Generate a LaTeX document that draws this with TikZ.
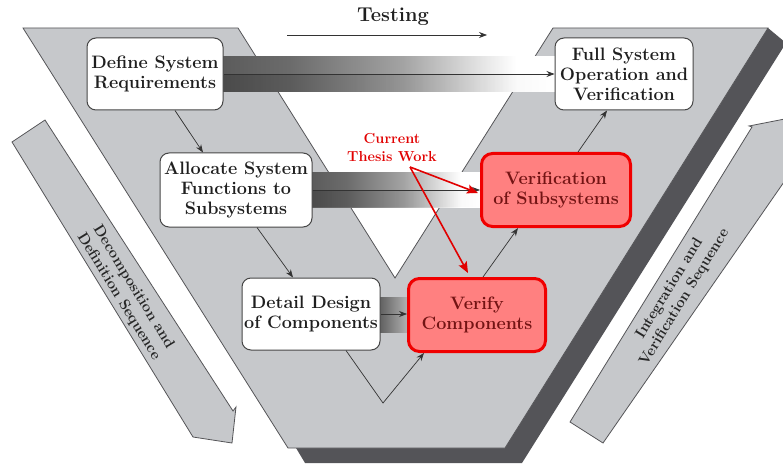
\documentclass[tikz,border=0pt]{standalone}
\usetikzlibrary{arrows.meta,fadings}

\definecolor{vfill}{RGB}{198,200,203}
\definecolor{vline}{RGB}{85,85,88}
\definecolor{vshadow}{RGB}{84,84,88}
\definecolor{boxline}{RGB}{70,70,70}
\definecolor{redfill}{RGB}{255,128,128}
\definecolor{redline}{RGB}{240,0,0}
\definecolor{redtext}{RGB}{115,20,20}
\definecolor{notered}{RGB}{225,0,0}

% left-to-right fade used by the "testing" bars (stops between 25bp and 75bp)
\pgfdeclarehorizontalshading{barfade}{100bp}{color(0bp)=(black!64); color(25bp)=(black!64);
  color(35bp)=(black!58); color(52bp)=(black!36); color(64bp)=(black!10);
  color(69bp)=(white); color(100bp)=(white)}
\pgfdeclarehorizontalshading{shortfade}{100bp}{color(0bp)=(black!62); color(25bp)=(black!62);
  color(75bp)=(black!30); color(100bp)=(black!30)}

\newcommand\vmboxfont{\fontsize{18}{20}\selectfont\bfseries}
\newcommand\vmbandfont{\fontsize{15}{17.5}\selectfont\bfseries}

\begin{document}
\begin{tikzpicture}[x=1pt,y=-1pt,
  boxw/.style={draw=boxline, line width=1pt, fill=white, rounded corners=9pt,
    align=center, font=\vmboxfont, text=black!88, inner sep=0pt},
  boxr/.style={draw=redline, line width=3pt, fill=redfill, rounded corners=11pt,
    align=center, font=\vmboxfont, text=redtext, inner sep=0pt},
  arr/.style={draw=black!80, line width=0.7pt, -{Stealth[length=8pt,width=6pt]}},
  redarr/.style={draw=notered, line width=1.6pt, -{Stealth[length=11pt,width=9pt,inset=2pt]}},
  band/.style={fill=vfill, draw=vline, line width=0.8pt, line join=miter},
  bandtext/.style={align=center, font=\vmbandfont, text=black!85},
  bar/.style={shading=barfade},
]
\useasboundingbox (0,0) rectangle (783,465);
\clip (0,0) rectangle (783,465);

% drop shadow along the right and bottom edges of the V
\fill[vshadow] (768,28) -- (786,43) -- (522,463) -- (305,463) -- (296,448)
  -- (505,448) -- cycle;

% the V itself
\path[band] (23,28) -- (238,28) -- (395,278) -- (553,28) -- (768,28)
  -- (505,448) -- (288,448) -- cycle;

% side arrows
\path[band] (12,142) -- (45,120) -- (233,411) -- (236,407) -- (232,443)
  -- (193,437) -- cycle;
\path[band] (570,422) -- (752,127) -- (749,126) -- (800,116) -- (820,130)
  -- (603,443) -- cycle;
\node[bandtext, rotate=-58.5] (dectext) at (126,292)
  {Decomposition and\\Definition Sequence};
\node[bandtext, rotate=58.5] (inttext) at (677,293)
  {Integration and\\Verification Sequence};

% testing bars
\shade[bar] (223,57) rectangle (556,92);
\fill[black, opacity=0.18, path fading=east] (223,75) rectangle (556,92);
\shade[bar] (312,172) rectangle (481,207);
\fill[black, opacity=0.18, path fading=east] (312,190) rectangle (481,207);
\shade[shading=shortfade] (380,297) rectangle (408,332);

% testing direction
\coordinate (t0) at (287,35);
\coordinate (t1) at (487,35);
\draw[arr] (t0) -- (t1);
\node[font=\fontsize{20}{22}\selectfont\bfseries, text=black!88] (testing) at (393,17) {Testing};

% process boxes
\node[boxw, minimum width=136pt, minimum height=72pt] (define) at (155,74)
  {Define System\\Requirements};
\node[boxw, minimum width=152pt, minimum height=74pt] (allocate) at (236,190)
  {Allocate System\\Functions to\\Subsystems};
\node[boxw, minimum width=138pt, minimum height=72pt] (detail) at (311,314)
  {Detail Design\\of Components};
\node[boxr, minimum width=137pt, minimum height=73pt] (verify) at (477,315)
  {Verify\\Components};
\node[boxr, minimum width=149pt, minimum height=73pt] (versub) at (556,190)
  {Verification\\of Subsystems};
\node[boxw, minimum width=138pt, minimum height=72pt] (full) at (624,74)
  {Full System\\Operation and\\Verification};

% flow down the left arm and up the right arm
\draw[arr] ([xshift=20pt]define.south) -- ([xshift=-33pt]allocate.north);
\draw[arr] ([xshift=21pt]allocate.south) -- ([xshift=-18pt]detail.north);
\coordinate (vbottom) at (383,403);
\draw[arr] ([xshift=35pt]detail.south) -- (vbottom) -- ([xshift=-53pt]verify.south);
\draw[arr] ([xshift=6pt]verify.north) -- ([xshift=-38pt]versub.south);
\draw[arr] ([xshift=22pt]versub.north) -- ([xshift=-17pt]full.south);

% verification links across the V
\draw[arr] (define.east) -- (full.west);
\draw[arr] (allocate.east) -- (versub.west);
\draw[arr] (detail.east) -- (detail.east -| verify.west);

% thesis annotation
\node[align=center, font=\fontsize{14.5}{18}\selectfont\bfseries, text=notered] (thesis)
  at (392,148) {Current\\Thesis Work};
\coordinate (thesisfoot) at (410,167);
\draw[redarr] (thesisfoot) -- ([yshift=-3pt,xshift=-2pt]versub.west);
\draw[redarr] (thesisfoot) -- ([xshift=-9pt,yshift=4pt]verify.north);
\end{tikzpicture}
\end{document}
